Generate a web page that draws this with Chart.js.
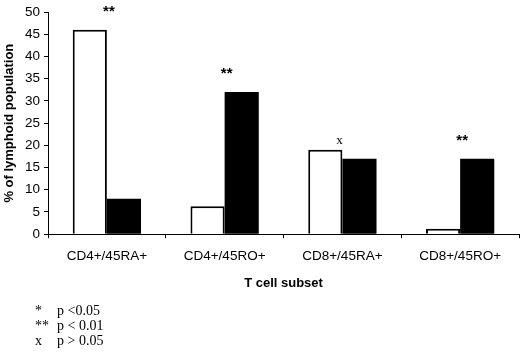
<!DOCTYPE html>
<html lang="en">
<head>
<meta charset="UTF-8">
<title>T cell subsets</title>
<script src="https://cdn.jsdelivr.net/npm/chart.js"></script>
<style>
  body { margin: 0; background: #fff; }
  .wrap { position: relative; width: 520px; height: 356px; }
  .notes { position: absolute; left: 35px; top: 303px; font-family: "Liberation Serif", serif; font-size: 14px; line-height: 15px; color: #000; }
  .notes span { display: inline-block; width: 22px; }
</style>
</head>
<body>
<div class="wrap">
  <canvas id="chart" width="520" height="356"></canvas>
  <div class="notes">
    <div><span>*</span>p &lt;0.05</div>
    <div><span>**</span>p &lt; 0.01</div>
    <div><span>x</span>p &gt; 0.05</div>
  </div>
</div>
<script>
const subsets = ['CD4+/45RA+', 'CD4+/45RO+', 'CD8+/45RA+', 'CD8+/45RO+'];
const whiteValues = [46, 6.3, 19, 1.2];
const blackValues = [8, 32, 17, 17];
const sigMarks = ['**', '**', 'x', '**'];
const yTicks = [0, 5, 10, 15, 20, 25, 30, 35, 40, 45, 50];

// draws the significance marks above each pair of bars
const sigPlugin = {
  id: 'sig',
  afterDatasetsDraw(chart) {
    const ctx = chart.ctx;
    const x = chart.scales.x, y = chart.scales.y;
    ctx.save();
    ctx.fillStyle = '#000';
    ctx.textAlign = 'center';
    ctx.textBaseline = 'alphabetic';
    sigMarks.forEach((m, i) => {
      const top = y.getPixelForValue(Math.max(whiteValues[i], blackValues[i]));
      if (m === 'x') {
        ctx.font = '13px "Liberation Serif"';
        ctx.fillText(m, x.getPixelForValue(i) - 3, top - 6);
      } else {
        ctx.font = 'bold 15px "Liberation Sans"';
        ctx.fillText(m, x.getPixelForValue(i) + 2, top - 14);
      }
    });
    ctx.restore();
  }
};

new Chart(document.getElementById('chart'), {
  type: 'bar',
  data: {
    labels: subsets,
    datasets: [
      { data: whiteValues, backgroundColor: '#fff', borderColor: '#000', borderWidth: 2 },
      { data: blackValues, backgroundColor: '#000', borderColor: '#000', borderWidth: 0 }
    ]
  },
  options: {
    responsive: false,
    animation: false,
    layout: { padding: { left: 0, right: 1, top: -2, bottom: 65 } },
    datasets: { bar: { categoryPercentage: 0.58, barPercentage: 1 } },
    plugins: { legend: { display: false }, tooltip: { enabled: false } },
    scales: {
      x: {
        grid: { display: true, drawOnChartArea: false, offset: true, color: '#000', tickLength: 4 },
        border: { color: '#000', width: 1 },
        ticks: { color: '#000', padding: 10, font: { family: 'Liberation Sans', size: 13.5 }, maxRotation: 0 },
        title: { display: true, text: 'T cell subset', color: '#000', padding: { top: 1, bottom: 0 },
                 font: { family: 'Liberation Sans', size: 13, weight: 'bold' } }
      },
      y: {
        min: 0, max: 50,
        afterBuildTicks(s) { s.ticks = yTicks.map(v => ({ value: v })); },
        afterFit(s) { s.width = 48; },
        grid: { display: true, drawOnChartArea: false, color: '#000', tickLength: 4 },
        border: { color: '#000', width: 1 },
        ticks: { color: '#000', padding: 4, font: { family: 'Liberation Sans', size: 13.5 } },
        title: { display: true, text: '% of lymphoid population', color: '#000', padding: { top: 2, bottom: 0 },
                 font: { family: 'Liberation Sans', size: 13, weight: 'bold' } }
      }
    }
  },
  plugins: [sigPlugin]
});
</script>
</body>
</html>
